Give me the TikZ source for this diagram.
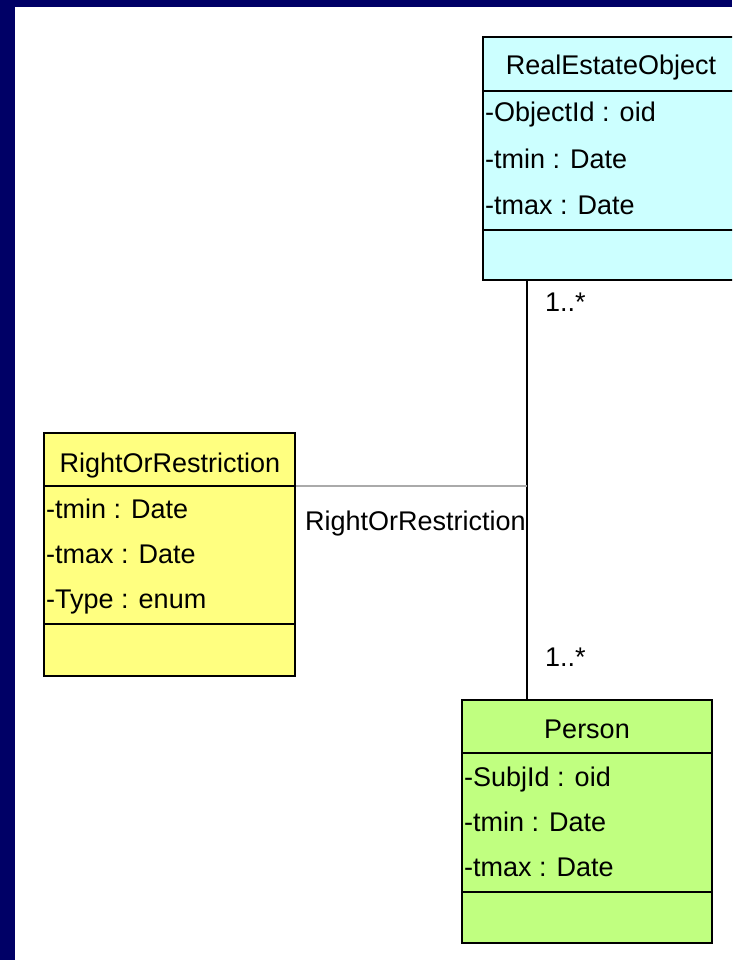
\documentclass[tikz,border=0pt]{standalone}
\usepackage{fontspec}
\setmainfont{Liberation Sans}
\usepackage{xcolor}
\definecolor{slideframe}{RGB}{0,0,102}
\definecolor{reofill}{RGB}{204,255,255}
\definecolor{rorfill}{RGB}{255,255,128}
\definecolor{personfill}{RGB}{192,255,128}
\definecolor{assocgray}{RGB}{170,170,170}

\begin{document}
\begin{tikzpicture}[x=1pt,y=-1pt,
	classbox/.style={draw=black,line width=1.6pt,inner sep=0pt},
	classname/.style={anchor=base,inner sep=0pt,font=\fontsize{27}{30}\selectfont},
	attr/.style={anchor=base west,inner sep=0pt,font=\fontsize{27}{30}\selectfont}]
	\useasboundingbox (0,0) rectangle (732,960);
	\clip (0,0) rectangle (732,960);
	\fill[slideframe] (0,0) rectangle (732,960);
	\fill[white] (15,7) rectangle (732,960);
	
	% RealEstateObject
	\node[classbox,fill=reofill,minimum width=257pt,minimum height=243pt] (reo) at (611.5,158.5) {};
	\draw[line width=1.6pt] (483,91) -- (740,91);
	\draw[line width=1.6pt] (483,230) -- (740,230);
	\node[classname] (reoname) at (611,75) {RealEstateObject};
	\node[attr] (reoid) at (485,122) {-ObjectId : oid};
	\node[attr] (reotmin) at (485,168) {-tmin : Date};
	\node[attr] (reotmax) at (485,214) {-tmax : Date};
	
	% RightOrRestriction
	\node[classbox,fill=rorfill,minimum width=251pt,minimum height=243pt] (ror) at (169.5,554.5) {};
	\draw[line width=1.6pt] (44,486) -- (295,486);
	\draw[line width=1.6pt] (44,624) -- (295,624);
	\node[classname] (rorname) at (170,472) {RightOrRestriction};
	\node[attr] (rortmin) at (46,518) {-tmin : Date};
	\node[attr] (rortmax) at (46,563) {-tmax : Date};
	\node[attr] (rortype) at (46,608) {-Type : enum};
	
	% Person
	\node[classbox,fill=personfill,minimum width=250pt,minimum height=243pt] (person) at (587,821.5) {};
	\draw[line width=1.6pt] (462,753) -- (712,753);
	\draw[line width=1.6pt] (462,892) -- (712,892);
	\node[classname] (personname) at (587,738) {Person};
	\node[attr] (personid) at (464,786) {-SubjId : oid};
	\node[attr] (persontmin) at (464,831) {-tmin : Date};
	\node[attr] (persontmax) at (464,876) {-tmax : Date};
	
	% association
	\coordinate (assoc) at (527,486);
	\draw[line width=1.6pt] (reo.south -| assoc) -- (person.north -| assoc);
	\draw[assocgray,line width=2pt] (ror.east |- assoc) -- (assoc);
	\node[attr] (assocname) at (305,530) {RightOrRestriction};
	\node[attr] (reomult) at (545,311) {1..*};
	\node[attr] (personmult) at (545,666) {1..*};
\end{tikzpicture}
\end{document}
